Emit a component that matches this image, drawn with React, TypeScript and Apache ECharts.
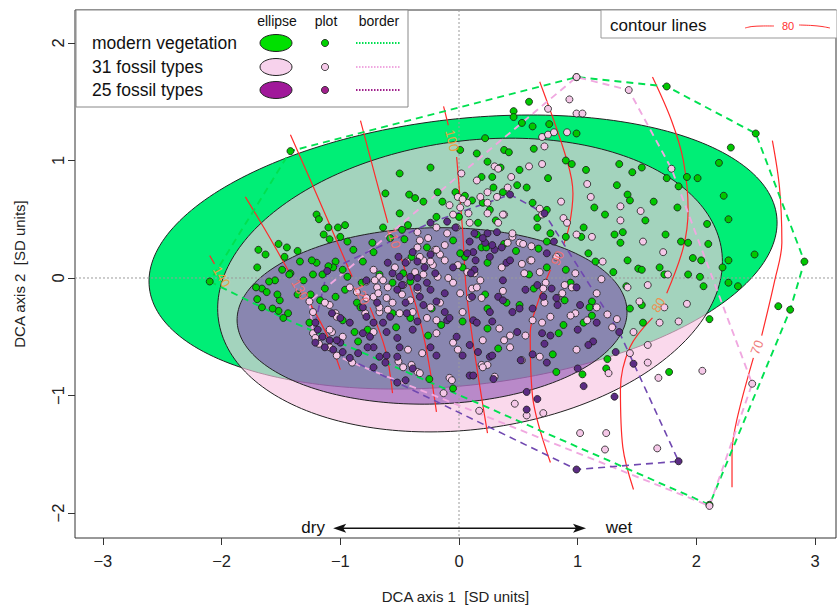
import React, { useEffect, useRef } from 'react';
import * as echarts from 'echarts';

const FONT = '"Liberation Sans", Arial, Helvetica, sans-serif';

// axes
const xRange = [-3.235, 3.176];
const yRange = [-2.213, 2.281];
const xTicks = [-3, -2, -1, 0, 1, 2, 3];
const yTicks = [-2, -1, 0, 1, 2];
const xTitle = 'DCA axis 1  [SD units]';
const yTitle = 'DCA axis 2  [SD units]';

// groups
const groupNames = ['modern vegetation', '31 fossil types', '25 fossil types'];
const legendHeaders = ['ellipse', 'plot', 'border'];

// ellipses (centre, semi-axes, rotation in degrees)
const ellipseCenters = [[0.034, 0.221], [0.093, -0.06], [-0.227, -0.323]];
const ellipseSemiAxes = [[2.66, 1.133], [2.14, 1.226], [1.643, 0.75]];
const ellipseAngles = [6.6, 8, 1.5];
const ellipseFills = ['#00EE76', 'rgba(248,198,226,0.66)', 'rgba(106,40,160,0.45)'];
const legendEllipseFills = ['#00E000', '#F7D2EC', '#A0189A'];
const pointColors = ['#00C800', '#F5C8E8', '#5B2C83'];
const legendPointColors = ['#00D000', '#F5C8E8', '#A0208C'];
const hullColors = ['#00E050', '#F0A8E0', '#7048B0'];
const legendBorderColors = ['#00E050', '#F0A8E0', '#A0208C'];

const greenPts = [
  [-1.42,1.08],[-0.50,0.89],[-0.24,0.94],[-0.18,0.73],[0.01,1.09],[0.15,1.06],[0.22,1.19],[0.24,0.99],[-0.62,0.72],[-0.42,0.71],
  [-0.37,0.68],[-0.30,0.65],[-0.50,0.55],[-0.14,0.65],[-0.03,0.73],[-0.64,0.43],[-0.48,0.41],[-0.43,0.45],[-0.19,0.52],[-1.20,0.54],
  [-1.18,0.50],[-1.10,0.43],[-1.02,0.43],[-0.96,0.45],[-1.14,0.37],[-1.09,0.33],[-1.00,0.35],[-0.94,0.31],[-0.89,0.24],[-1.52,0.29],
  [-1.45,0.26],[-1.63,0.20],[-1.69,0.24],[-1.36,0.23],[-1.47,0.18],[-1.70,0.09],[-0.81,0.14],[-0.72,0.22],[-0.73,0.30],[-0.58,0.34],
  [-0.46,0.33],[-1.34,0.14],[-1.20,0.13],[-1.04,0.14],[-1.24,0.15],[-0.98,0.07],[-0.94,0.01],[-0.82,-0.04],[-1.15,0.03],[-1.31,-0.02],
  [-1.49,0.07],[-1.55,-0.02],[-1.42,0.04],[-1.60,-0.03],[-1.66,-0.09],[-1.62,-0.12],[-2.10,-0.03],[-0.67,0.03],[-0.56,-0.04],[-0.47,0.04],
  [-0.40,0.18],[-0.27,0.26],[0.05,0.18],[0.19,0.26],[0.16,0.47],[0.26,0.58],[0.29,0.77],[0.19,0.86],[0.05,0.70],[0.11,0.66],
  [0.20,0.64],[0.00,0.52],[0.31,0.49],[-0.05,0.32],[0.03,0.09],[0.59,1.50],[0.46,1.42],[0.46,1.37],[0.53,1.32],[0.62,1.29],
  [0.76,1.31],[0.99,1.23],[0.38,1.09],[0.42,1.07],[0.63,1.10],[0.35,0.94],[0.51,0.92],[0.28,0.86],[0.37,0.73],[0.49,0.79],
  [0.57,0.77],[0.75,0.85],[0.90,1.00],[0.95,0.97],[1.07,0.92],[1.35,0.97],[1.46,0.90],[1.54,0.94],[1.75,0.85],[1.92,0.86],
  [2.01,0.85],[1.85,0.78],[2.19,0.98],[2.29,1.11],[1.75,1.63],[2.50,1.23],[2.23,0.70],[2.27,0.50],[2.49,0.20],[2.91,0.14],
  [1.33,0.79],[1.42,0.71],[1.44,0.66],[1.64,0.65],[1.84,0.60],[1.14,0.60],[1.23,0.54],[1.57,0.49],[2.09,0.46],[1.74,0.37],
  [1.87,0.31],[1.93,0.30],[2.10,0.29],[1.97,0.17],[2.04,0.15],[2.27,0.15],[2.22,0.09],[1.69,0.09],[1.73,0.03],[1.93,0.03],
  [2.03,0.01],[2.27,-0.04],[2.35,-0.07],[2.06,-0.07],[1.42,0.15],[1.51,0.08],[1.54,0.07],[1.30,0.05],[1.15,0.14],[1.09,0.21],
  [1.31,0.37],[1.38,0.39],[1.36,0.30],[1.03,0.35],[1.05,0.43],[0.90,0.35],[0.66,0.43],[0.62,0.64],[0.74,0.58],[0.66,0.51],
  [0.77,0.38],[0.74,0.31],[0.67,0.25],[0.48,0.23],[0.38,0.29],[0.23,0.26],[0.01,0.21],[0.24,0.13],[0.74,0.09],[0.90,0.07],
  [0.63,-0.09],[0.89,-0.19],[1.12,-0.20],[1.10,-0.25],[1.44,-0.26],[1.54,-0.23],[1.41,-0.07],[2.69,-0.24],[2.79,-0.27],[1.55,-0.38],
  [2.11,-0.35],[1.77,-0.80],[1.24,-0.77],[1.04,-0.82],[0.82,-0.80],[1.05,-0.38],[0.88,-0.40],[0.79,-0.65],[0.33,-0.60],[0.24,-0.26],
  [0.40,-0.21],[0.51,-0.23],[-0.05,-0.94],[0.59,0.03],[0.94,-0.04],[0.24,-0.43],[0.84,-0.47],[1.12,-0.32],[1.25,-0.69],[0.15,0.37],
  [0.22,-0.14],[-1.71,-0.08],[-1.51,-0.19],[-1.66,-0.25],[-1.52,-0.28],[-1.44,-0.30],[-1.26,-0.38],[-1.36,-0.14],[-1.04,-0.16],[-0.96,-0.10],
  [-0.86,-0.21],[-0.98,-0.36],[-0.88,-0.46],[-0.56,-0.30],[-0.77,-0.44],[-0.26,-0.49],[-0.41,-0.34],[-0.15,-0.40],[-0.25,-0.86],[-0.41,-0.03],
  [-0.85,-0.54],[-0.53,-0.42],[0.03,-0.37],[-0.23,-0.26],[-0.83,-0.25],[-1.43,0.03],[-1.23,0.03],[-1.06,0.09],[-1.70,-0.18],[-1.57,-0.26],
  [-1.48,-0.34],[-1.17,-0.19],[-1.10,0.10],[-1.53,-0.14],[-1.25,-0.14],[-1.13,-0.09],[0.99,1.71],[2.11,-1.93]
];

const pinkPts = [
  [0.99,1.71],[1.43,1.60],[0.93,1.52],[0.75,1.44],[0.99,1.40],[1.04,1.40],[0.91,1.24],[0.70,1.20],[0.75,1.22],[0.80,1.24],
  [0.72,1.12],[0.30,0.95],[0.33,0.93],[0.44,0.86],[0.59,0.95],[0.70,0.97],[1.08,0.80],[1.11,0.69],[0.86,0.65],[1.36,0.61],
  [1.53,0.57],[1.79,0.93],[0.41,0.77],[0.32,0.69],[0.38,0.54],[0.24,0.64],[0.33,0.47],[0.68,0.59],[0.70,0.54],[0.88,0.51],
  [0.91,0.47],[0.99,0.37],[1.12,0.35],[1.36,0.49],[1.55,0.31],[1.72,0.22],[1.76,0.03],[1.21,0.14],[1.20,-0.01],[1.42,-0.08],
  [1.59,-0.06],[1.52,-0.20],[1.73,-0.25],[1.92,-0.22],[0.45,0.35],[0.41,0.30],[0.60,0.15],[0.53,0.12],[0.51,0.30],[0.18,-0.02],
  [0.36,0.09],[0.68,0.05],[0.73,-0.04],[0.98,0.04],[0.87,-0.13],[0.95,-0.08],[0.02,0.89],[0.07,0.64],[0.24,0.55],[0.01,-0.13],
  [0.11,-0.09],[0.19,-0.17],[0.34,-0.43],[0.43,-0.49],[0.20,-0.53],[0.19,-0.74],[0.24,-0.74],[0.53,-0.70],[0.68,-0.67],[0.56,-0.49],
  [0.62,-0.36],[0.77,-0.33],[0.72,-0.21],[0.83,-0.17],[0.98,-0.30],[1.08,-0.36],[1.16,-0.13],[1.26,-0.81],[1.44,-0.64],[1.47,-0.46],
  [1.59,-0.57],[1.59,-0.72],[1.69,-0.38],[1.85,-0.37],[1.68,-0.85],[2.05,-0.79],[2.47,-0.90],[2.11,-1.94],[1.67,-1.45],[1.23,-1.46],
  [1.24,-1.32],[1.02,-1.32],[0.71,-1.15],[0.57,-1.17],[0.47,-1.07],[0.17,-1.13],[0.37,0.54],[0.45,0.38],[0.54,0.29],[0.61,0.27],
  [0.82,0.18],[0.61,0.15],[0.55,0.04],[0.71,-0.09],[0.89,-0.06],[0.94,-0.32],[0.70,-0.38],[0.38,-0.53],[0.43,-0.59],[0.99,-0.61],
  [1.29,-0.42],[1.33,-0.35],[1.25,-0.31],[1.16,-0.25],[0.20,-0.76],[0.37,-0.11],[-0.01,0.69],[0.03,0.67],[-0.08,0.62],[0.09,0.47],
  [-0.02,0.43],[-0.35,0.39],[-0.26,0.34],[-0.12,0.28],[-0.20,0.24],[-0.16,0.20],[-0.12,0.15],[-0.30,0.15],[-0.22,0.11],[-0.37,0.05],
  [-0.30,0.03],[-0.18,0.01],[-0.09,0.00],[-0.05,-0.04],[-0.72,0.07],[-0.67,0.01],[-0.64,-0.02],[-0.69,-0.08],[-0.60,-0.08],[-0.92,-0.08],
  [-0.86,-0.12],[-0.72,-0.16],[-0.61,-0.17],[-0.56,-0.21],[-0.48,-0.14],[-0.41,-0.19],[-0.50,-0.30],[-0.39,-0.29],[-0.60,-0.27],[-0.67,-0.29],
  [-0.24,-0.25],[-0.19,-0.36],[0.03,-0.29],[0.09,-0.17],[0.15,-0.08],[0.13,0.04],[0.07,0.05],[-0.01,0.11],[-1.09,-0.23],[-1.04,-0.30],
  [-1.07,-0.46],[-1.09,-0.59],[-1.03,-0.66],[-0.79,-0.30],[-0.67,-0.25],[-0.72,-0.46],[-0.43,-0.61],[-0.31,-0.64],[-0.40,-0.74],[-0.35,-0.80],
  [-0.47,-0.76],[-0.19,-0.47],[-0.05,-0.55],[-0.01,-0.61],[-0.08,-0.85],[-0.13,-0.98],[-0.16,-0.21],[-0.27,-0.34],[-0.78,-0.17],[-1.23,-0.47],
  [-1.21,-0.51],[-1.18,-0.56],[-0.98,-0.50],[-0.90,-0.72],[-0.68,-0.13],[-0.51,-0.71],[-0.33,-0.81],[-0.06,-0.87],[0.30,-0.84],[-1.23,-0.29],
  [-1.09,-0.44],[-1.03,-0.33],[-1.13,-0.21],[0.15,0.83],[0.24,0.73],[0.18,0.69],[0.01,0.60],[-0.05,0.54],[0.08,0.55],[-0.19,0.43],
  [-0.10,0.38],[-0.33,0.32],[-0.35,0.26],[-0.19,0.24],[-0.33,0.18],[-0.24,0.14],[-0.44,0.14],[-0.54,0.09],[-0.71,-0.02],[-0.78,-0.03],
  [-0.47,-0.06],[-0.35,-0.10],[-1.26,-0.20]
];

const purplePts = [
  [0.99,-1.63],[1.85,-1.56],[1.47,-0.73],[1.05,-0.92],[1.31,-1.01],[0.57,-1.12],[0.57,-0.97],[0.66,-1.03],[1.00,-0.77],[1.32,-0.63],
  [0.72,-0.56],[0.52,-0.70],[0.29,-0.86],[0.09,-0.83],[0.03,-0.66],[0.26,-0.67],[0.77,-0.49],[0.83,-0.23],[1.02,-0.23],[1.13,-0.54],
  [1.16,-0.38],[0.71,-0.16],[0.51,-0.26],[0.45,-0.29],[0.33,-0.16],[0.72,0.55],[0.80,0.31],[0.74,0.21],[0.40,0.13],[0.37,-0.02],
  [0.66,-0.06],[0.78,-0.09],[0.99,-0.08],[0.82,-0.17],[0.62,-0.26],[0.26,-0.29],[0.28,-0.37],[0.49,-0.46],[0.70,-0.47],[1.00,-0.44],
  [1.09,-0.57],[0.62,-0.65],[0.74,-0.72],[0.28,-0.66],[0.16,-0.63],[1.35,-0.46],[0.13,0.07],[0.14,0.15],[0.26,0.18],[0.30,0.24],
  [0.36,0.26],[0.22,0.30],[0.24,0.38],[0.32,0.39],[0.43,0.71],[-0.03,0.43],[0.09,0.31],[0.13,0.38],[0.20,0.34],[0.28,0.28],
  [0.12,0.22],[-0.05,0.09],[0.10,0.04],[0.43,0.15],[0.37,-0.19],[0.11,-0.16],[0.56,-0.10],[-0.39,0.22],[-0.45,0.13],[-0.35,0.14],
  [-0.24,0.20],[-0.29,0.09],[-0.35,0.00],[-0.41,0.01],[-0.50,0.01],[-0.48,-0.06],[-0.52,-0.10],[-0.35,-0.08],[-0.27,-0.04],[-0.24,-0.10],
  [-0.33,-0.16],[-0.30,-0.23],[-0.45,-0.21],[-0.44,-0.30],[-0.58,-0.33],[-0.64,-0.38],[-0.35,-0.37],[-0.12,-0.13],[-0.19,-0.20],[-0.12,-0.29],
  [-0.10,-0.36],[0.12,-0.36],[-0.72,-0.38],[-0.78,-0.33],[-0.92,-0.38],[-1.00,-0.34],[-0.69,-0.21],[-0.81,-0.25],[-0.78,-0.02],[-0.60,0.13],
  [-0.56,0.04],[-0.10,0.48],[-0.24,0.47],[-1.00,-0.55],[-0.98,-0.63],[-0.92,-0.68],[-0.81,-0.47],[-0.75,-0.50],[-0.72,-0.59],[-0.61,-0.66],
  [-0.62,-0.72],[-0.50,-0.59],[-0.52,-0.51],[-0.39,-0.44],[-0.24,-0.59],[-0.19,-0.66],[-0.45,-0.87],[-0.52,-0.89],[0.12,-0.83],[0.09,-0.57],
  [-0.02,-0.50],[-0.08,-0.34],[0.15,-0.38],[-0.61,-0.46],[-1.09,-0.53],[-1.21,-0.38],[-1.19,-0.44],[-1.15,-0.50],[-1.13,-0.59],[-1.07,-0.30],
  [-1.03,-0.53],[-0.85,-0.64],[-0.77,-0.59],[-0.72,-0.76],[-0.67,-0.67],[-0.52,-0.67],[-0.39,-0.77],[-1.06,-0.61],[-0.51,0.18],[-0.20,0.04],
  [0.07,0.21],[-1.11,0.06],[-1.21,-0.55]
];
const groupPoints = [greenPts, pinkPts, purplePts];

// contour lines (level, segments broken where the label sits)
const contourLevels = [140, 130, 120, 110, 100, 90, 80, 70];
const contour140 = [[[-2.10, 0.19], [-2.06, 0.12]]];
const contour130 = [[[-1.80, 0.69], [-1.61, 0.37], [-1.42, 0.03]], [[-1.26, -0.21], [-1.11, -0.49], [-1.00, -0.78]]];
const contour120 = [[[-1.42, 1.22], [-1.16, 0.62], [-0.90, 0.01]], [[-0.75, -0.25], [-0.62, -0.61], [-0.56, -0.98]]];
const contour110 = [[[-0.83, 1.34], [-0.72, 0.92], [-0.60, 0.47]], [[-0.50, 0.21], [-0.31, -0.44], [-0.19, -1.14]]];
const contour100 = [[[-0.13, 1.46], [-0.09, 1.30]], [[-0.02, 1.03], [0.03, 0.41], [0.07, -0.19], [0.24, -1.32]]];
const contour90 = [[[0.68, 1.67], [0.91, 1.00], [0.96, 0.72], [0.93, 0.45], [0.88, 0.28]], [[0.77, 0.07], [0.67, -0.19], [0.60, -0.47], [0.62, -1.01], [0.77, -1.57]]];
const contour80 = [[[1.63, 1.71], [1.79, 1.34], [1.89, 1.00], [1.93, 0.58], [1.89, 0.26], [1.75, -0.13]], [[1.63, -0.34], [1.44, -0.59], [1.36, -0.95], [1.38, -1.44], [1.47, -1.80]]];
const contour70 = [[[2.64, 1.17], [2.70, 0.77], [2.72, 0.30], [2.66, -0.02], [2.55, -0.49]], [[2.48, -0.68], [2.34, -1.21], [2.30, -1.49], [2.30, -1.78]]];
const contourSegments = [contour140, contour130, contour120, contour110, contour100, contour90, contour80, contour70];
const contourLabelPos = [[-2.00, 0.01], [-1.34, -0.10], [-0.82, -0.14], [-0.55, 0.34], [-0.06, 1.17], [0.83, 0.17], [1.68, -0.23], [2.51, -0.59]];
const contourLabelRot = [-60, -60, -66, -75, -76, 64, 59, 69];
const contourLabelColors = ['#E8A040', '#F07070', '#F07070', '#F07070', '#E8A040', '#F07070', '#F09050', '#F08080'];

// gradient arrow
const arrowEnds = [[-1.06, -2.13], [1.07, -2.13]];
const arrowTexts = ['dry', 'wet'];

function convexHull(pts: number[][]): number[][] {
  const p = pts.slice().sort((a, b) => a[0] - b[0] || a[1] - b[1]);
  const cross = (o: number[], a: number[], b: number[]) => (a[0] - o[0]) * (b[1] - o[1]) - (a[1] - o[1]) * (b[0] - o[0]);
  const lower: number[][] = [];
  for (const q of p) {
    while (lower.length >= 2 && cross(lower[lower.length - 2], lower[lower.length - 1], q) <= 0) lower.pop();
    lower.push(q);
  }
  const upper: number[][] = [];
  for (let i = p.length - 1; i >= 0; i--) {
    const q = p[i];
    while (upper.length >= 2 && cross(upper[upper.length - 2], upper[upper.length - 1], q) <= 0) upper.pop();
    upper.push(q);
  }
  lower.pop();
  upper.pop();
  const h = lower.concat(upper);
  h.push(h[0]);
  return h;
}

const minus = (v: number) => String(v).replace('-', '\u2212');

export default function App() {
  const ref = useRef<HTMLDivElement>(null);
  useEffect(() => {
    if (!ref.current) return;
    const chart = echarts.init(ref.current, undefined, { renderer: 'svg' });

    const series: any[] = [];

    series.push({
      type: 'custom',
      z: 1,
      silent: true,
      data: ellipseCenters,
      encode: { x: 0, y: 1 },
      renderItem: (params: any, api: any) => {
        const i = params.dataIndex;
        const [cx, cy] = ellipseCenters[i];
        const [a, b] = ellipseSemiAxes[i];
        const th = (ellipseAngles[i] * Math.PI) / 180;
        const pts: number[][] = [];
        for (let k = 0; k < 240; k++) {
          const t = (k / 240) * 2 * Math.PI;
          const ex = a * Math.cos(t);
          const ey = b * Math.sin(t);
          pts.push(api.coord([cx + ex * Math.cos(th) - ey * Math.sin(th), cy + ex * Math.sin(th) + ey * Math.cos(th)]));
        }
        return { type: 'polygon', shape: { points: pts }, style: { fill: ellipseFills[i], stroke: '#222', lineWidth: 1 } };
      },
    });

    series.push({
      type: 'custom',
      z: 2,
      silent: true,
      data: [[0, 0]],
      encode: { x: 0, y: 1 },
      renderItem: (params: any, api: any) => {
        const cs = params.coordSys;
        const o = api.coord([0, 0]);
        const st = { stroke: '#9a9a9a', lineWidth: 1, lineDash: [2, 2], fill: 'none' };
        return {
          type: 'group',
          children: [
            { type: 'line', shape: { x1: cs.x, y1: o[1], x2: cs.x + cs.width, y2: o[1] }, style: st },
            { type: 'line', shape: { x1: o[0], y1: cs.y, x2: o[0], y2: cs.y + cs.height }, style: st },
          ],
        };
      },
    });

    contourSegments.forEach((segs) => {
      segs.forEach((seg) => {
        series.push({
          type: 'line',
          z: 3,
          silent: true,
          data: seg,
          symbol: 'none',
          smooth: 0.35,
          lineStyle: { color: '#FF2A2A', width: 1.2 },
        });
      });
    });

    groupPoints.forEach((pts, g) => {
      series.push({
        type: 'line',
        z: 4,
        silent: true,
        data: convexHull(pts),
        symbol: 'none',
        lineStyle: { color: hullColors[g], width: g === 2 ? 1.6 : 1.9, type: [7, 5] },
      });
    });

    groupPoints.forEach((pts, g) => {
      series.push({
        type: 'scatter',
        name: groupNames[g],
        z: 5,
        silent: true,
        data: pts,
        symbolSize: 7,
        itemStyle: { color: pointColors[g], borderColor: '#1a1a1a', borderWidth: 0.8, opacity: 1 },
      });
    });

    series.push({
      type: 'custom',
      z: 6,
      silent: true,
      data: contourLabelPos,
      encode: { x: 0, y: 1 },
      renderItem: (params: any, api: any) => {
        const i = params.dataIndex;
        const p = api.coord(contourLabelPos[i]);
        return {
          type: 'text',
          x: p[0],
          y: p[1],
          rotation: (contourLabelRot[i] * Math.PI) / 180,
          style: { text: String(contourLevels[i]), fill: contourLabelColors[i], font: `13px ${FONT}`, align: 'center', verticalAlign: 'middle' },
        };
      },
    });

    series.push({
      type: 'custom',
      z: 6,
      silent: true,
      data: [arrowEnds[0]],
      encode: { x: 0, y: 1 },
      renderItem: (params: any, api: any) => {
        const p1 = api.coord(arrowEnds[0]);
        const p2 = api.coord(arrowEnds[1]);
        const L = 13, W = 4.5, N = 3;
        return {
          type: 'group',
          children: [
            { type: 'line', shape: { x1: p1[0] + 4, y1: p1[1], x2: p2[0] - 4, y2: p2[1] }, style: { stroke: '#111', lineWidth: 1.3 } },
            { type: 'polygon', shape: { points: [[p1[0], p1[1]], [p1[0] + L, p1[1] - W], [p1[0] + L - N, p1[1]], [p1[0] + L, p1[1] + W]] }, style: { fill: '#111' } },
            { type: 'polygon', shape: { points: [[p2[0], p2[1]], [p2[0] - L, p2[1] - W], [p2[0] - L + N, p2[1]], [p2[0] - L, p2[1] + W]] }, style: { fill: '#111' } },
            { type: 'text', x: p1[0] - 20, y: p1[1] - 1, style: { text: arrowTexts[0], fill: '#111', font: `17px ${FONT}`, align: 'center', verticalAlign: 'middle' } },
            { type: 'text', x: p2[0] + 33, y: p2[1] - 1, style: { text: arrowTexts[1], fill: '#111', font: `17px ${FONT}`, align: 'center', verticalAlign: 'middle' } },
          ],
        };
      },
    });

    const rowY = [43, 67, 90];
    const graphic: any[] = [
      { type: 'rect', z: 100, shape: { x: 76, y: 10, width: 332, height: 97 }, style: { fill: '#fff', stroke: '#888', lineWidth: 1 } },
      { type: 'text', z: 101, x: 277, y: 21, style: { text: legendHeaders[0], font: `14px ${FONT}`, fill: '#111', align: 'center', verticalAlign: 'middle' } },
      { type: 'text', z: 101, x: 326, y: 21, style: { text: legendHeaders[1], font: `14px ${FONT}`, fill: '#111', align: 'center', verticalAlign: 'middle' } },
      { type: 'text', z: 101, x: 379, y: 21, style: { text: legendHeaders[2], font: `14px ${FONT}`, fill: '#111', align: 'center', verticalAlign: 'middle' } },
      { type: 'rect', z: 100, shape: { x: 601, y: 10, width: 236, height: 28 }, style: { fill: '#fff', stroke: '#999', lineWidth: 1 } },
      { type: 'text', z: 101, x: 610, y: 25, style: { text: 'contour lines', font: `17px ${FONT}`, fill: '#111', align: 'left', verticalAlign: 'middle' } },
      { type: 'polyline', z: 101, shape: { points: [[745, 28], [752, 26.5], [762, 26], [774, 26]], smooth: 0.3 }, style: { stroke: '#FF3030', lineWidth: 1, fill: 'none' } },
      { type: 'text', z: 101, x: 788, y: 26, style: { text: String(contourLevels[6]), font: `11px ${FONT}`, fill: '#FF3030', align: 'center', verticalAlign: 'middle' } },
      { type: 'polyline', z: 101, shape: { points: [[799, 25], [812, 25.5], [822, 26.5], [830, 28]], smooth: 0.3 }, style: { stroke: '#FF3030', lineWidth: 1, fill: 'none' } },
    ];
    groupNames.forEach((n, g) => {
      const y = rowY[g];
      graphic.push({ type: 'text', z: 101, x: 92, y, style: { text: n, font: `17.5px ${FONT}`, fill: '#111', align: 'left', verticalAlign: 'middle' } });
      graphic.push({ type: 'ellipse', z: 101, shape: { cx: 276, cy: y, rx: 16, ry: 8.5 }, style: { fill: legendEllipseFills[g], stroke: '#222', lineWidth: 1 } });
      graphic.push({ type: 'circle', z: 101, shape: { cx: 325, cy: y, r: 3.6 }, style: { fill: legendPointColors[g], stroke: '#222', lineWidth: 0.8 } });
      graphic.push({ type: 'line', z: 101, shape: { x1: 356, y1: y, x2: 400, y2: y }, style: { stroke: legendBorderColors[g], lineWidth: 2, lineDash: [1.5, 1.5] } });
    });

    chart.setOption({
      animation: false,
      backgroundColor: '#fff',
      grid: { left: 75, right: 1, top: 10, bottom: 73, show: true, borderColor: '#333', borderWidth: 1, backgroundColor: 'transparent', outerBoundsMode: 'none' },
      xAxis: {
        type: 'value',
        min: xRange[0],
        max: xRange[1],
        name: xTitle,
        nameLocation: 'middle',
        nameGap: 51,
        nameTextStyle: { fontFamily: FONT, fontSize: 15, color: '#222' },
        axisLine: { show: false, onZero: false },
        axisTick: { show: true, inside: false, length: 7, customValues: xTicks, lineStyle: { color: '#333' } },
        axisLabel: { customValues: xTicks, formatter: (v: number) => minus(v), fontFamily: FONT, fontSize: 16.5, color: '#222', margin: 14 },
        splitLine: { show: false },
      },
      yAxis: {
        type: 'value',
        min: yRange[0],
        max: yRange[1],
        name: yTitle,
        nameLocation: 'middle',
        nameGap: 48,
        nameTextStyle: { fontFamily: FONT, fontSize: 15, color: '#222' },
        axisLine: { show: false, onZero: false },
        axisTick: { show: true, inside: false, length: 7, customValues: yTicks, lineStyle: { color: '#333' } },
        axisLabel: { customValues: yTicks, rotate: 90, formatter: (v: number) => minus(v), fontFamily: FONT, fontSize: 16.5, color: '#222', margin: 9 },
        splitLine: { show: false },
      },
      graphic,
      series,
    });
    return () => chart.dispose();
  }, []);
  return <div ref={ref} style={{ position: 'absolute', left: 0, top: 0, width: 837, height: 611 }} />;
}
